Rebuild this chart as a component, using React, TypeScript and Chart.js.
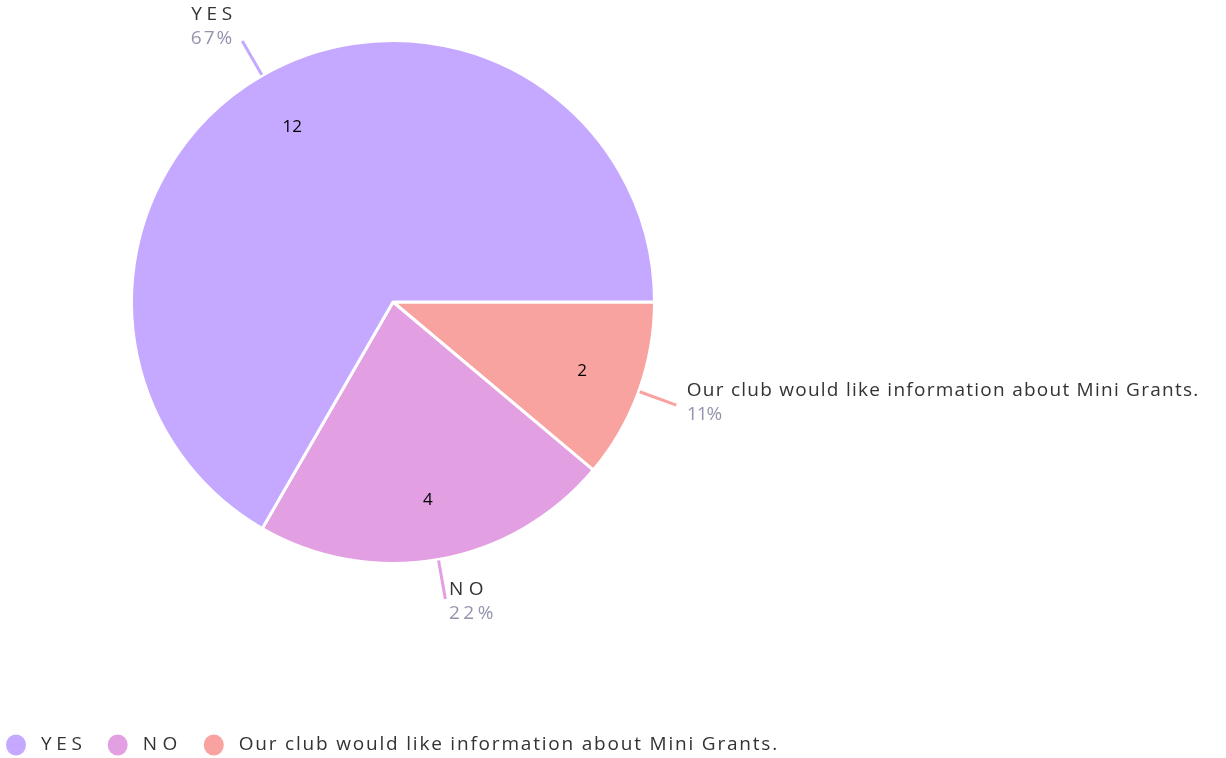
import React, { useEffect, useRef } from "react";
import { Chart, registerables } from "chart.js";

Chart.register(...registerables);

// ---- data ----
const categories = ["YES", "NO", "Our club would like information about Mini Grants."];
const values = [12, 4, 2];
const colors = ["#C5A8FF", "#E2A0E2", "#F9A3A1"];
// letter spacing per category label (px) and per percent label
const nameSpacing = [4.7, 5.5, 1.25];
const legendSpacing = [4.7, 5.5, 1.8];
const pctSpacing = [2, 3.5, -1];

const FONT = "'Open Sans', 'Noto Sans', sans-serif";
const NAME_COLOR = "#333333";
const PCT_COLOR = "#9494AE";

const total = values.reduce((a, b) => a + b, 0);
// chart draws clockwise, reference goes counter-clockwise -> reverse order
const drawOrder = categories.map((_, i) => i).reverse();

function setSpacing(ctx: CanvasRenderingContext2D, s: number) {
  (ctx as any).letterSpacing = s + "px";
}

const labelPlugin = {
  id: "pieLabels",
  afterDatasetsDraw(chart: any) {
    const ctx: CanvasRenderingContext2D = chart.ctx;
    const meta = chart.getDatasetMeta(0);
    meta.data.forEach((arc: any, j: number) => {
      const i = drawOrder[j];
      const { x, y, startAngle, endAngle, outerRadius } = arc.getProps(
        ["x", "y", "startAngle", "endAngle", "outerRadius"],
        true
      );
      const mid = (startAngle + endAngle) / 2;
      const c = Math.cos(mid);
      const s = Math.sin(mid);
      ctx.save();
      // inner value
      ctx.font = "17px " + FONT;
      ctx.fillStyle = "#000";
      ctx.textAlign = "center";
      ctx.textBaseline = "middle";
      setSpacing(ctx, 0);
      const ri = outerRadius * 0.77;
      ctx.fillText(String(values[i]), x + c * ri, y + s * ri);
      // callout line
      const r1 = outerRadius + 1;
      const r2 = outerRadius + 40;
      ctx.strokeStyle = colors[i];
      ctx.lineWidth = 3;
      ctx.beginPath();
      ctx.moveTo(x + c * r1, y + s * r1);
      const ex = x + c * r2;
      const ey = y + s * r2;
      ctx.lineTo(ex, ey);
      ctx.stroke();
      // outside label
      const pct = Math.round((values[i] / total) * 100) + "%";
      const ny = ey - 18.2 + 9.3 * s;
      let tx: number;
      ctx.font = "19px " + FONT;
      if (c >= 0) {
        ctx.textAlign = "left";
        tx = ex + 2 + 9 * c;
      } else {
        ctx.textAlign = "right";
        tx = ex - 2 - 16 * Math.abs(c);
      }
      ctx.textBaseline = "middle";
      ctx.fillStyle = NAME_COLOR;
      setSpacing(ctx, nameSpacing[i]);
      ctx.fillText(categories[i], tx + (c < 0 ? nameSpacing[i] : 0), ny);
      ctx.fillStyle = PCT_COLOR;
      setSpacing(ctx, pctSpacing[i]);
      ctx.fillText(pct, tx + (c < 0 ? pctSpacing[i] : 0), ny + 24);
      ctx.restore();
    });
  },
  afterDraw(chart: any) {
    // legend
    const ctx: CanvasRenderingContext2D = chart.ctx;
    ctx.save();
    ctx.font = "19px " + FONT;
    ctx.textBaseline = "middle";
    ctx.textAlign = "left";
    const ly = 745;
    let cx = 16;
    categories.forEach((cat, i) => {
      ctx.fillStyle = colors[i];
      ctx.beginPath();
      ctx.ellipse(cx, ly, 10, 10.5, 0, 0, Math.PI * 2);
      ctx.fill();
      ctx.fillStyle = NAME_COLOR;
      setSpacing(ctx, legendSpacing[i]);
      const tx = cx + 25;
      ctx.fillText(cat, tx, ly);
      const w = ctx.measureText(cat).width;
      cx = tx + w + 31;
    });
    ctx.restore();
  },
};

export default function App() {
  const ref = useRef<HTMLCanvasElement | null>(null);
  useEffect(() => {
    document.body.style.margin = "0";
    const canvas = ref.current;
    if (!canvas) return;
    const chart = new Chart(canvas, {
      type: "pie",
      data: {
        labels: drawOrder.map((i) => categories[i]),
        datasets: [
          {
            data: drawOrder.map((i) => values[i]),
            backgroundColor: drawOrder.map((i) => colors[i]),
            borderColor: "#ffffff",
            borderWidth: 3,
          },
        ],
      },
      options: {
        responsive: false,
        animation: false,
        rotation: 90,
        layout: { padding: { left: 130, right: 570, top: 39, bottom: 193 } },
        plugins: {
          legend: { display: false },
          tooltip: { enabled: false },
          title: { display: false },
        },
      },
      plugins: [labelPlugin],
    });
    return () => chart.destroy();
  }, []);
  return (
    <div style={{ width: 1226, height: 758, background: "#fff" }}>
      <canvas ref={ref} width={1226} height={758} style={{ display: "block" }} />
    </div>
  );
}
